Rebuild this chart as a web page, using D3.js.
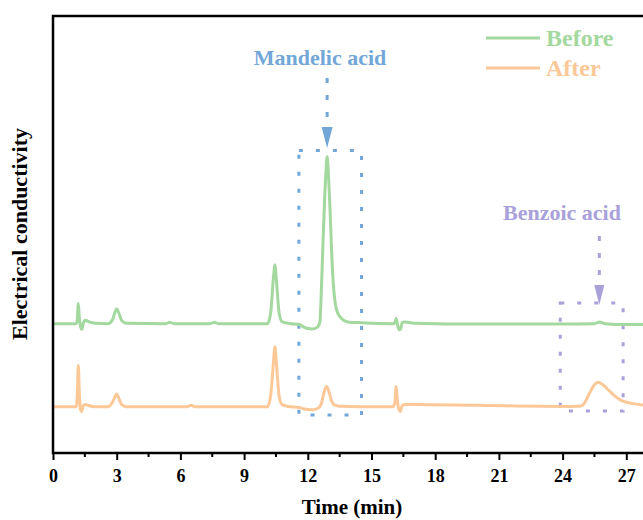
<!DOCTYPE html>
<html>
<head>
<meta charset="utf-8">
<script src="https://cdn.jsdelivr.net/npm/d3@7"></script>
<style>
  body { margin: 0; background: #fff; }
  text { font-family: "Liberation Serif", "Times New Roman", serif; font-weight: bold; }
</style>
</head>
<body>
<div id="chart-container"></div>
<script>
// [time (min), signal]
var before = [
    [0, 29.6], [1.1, 29.6], [1.15, 31], [1.19, 34.2], [1.24, 31], [1.3, 28.8], [1.36, 28.3],
    [1.43, 29.8], [1.52, 30.4], [1.7, 30.0], [2.0, 29.7], [2.6, 29.6], [2.8, 30.5], [2.95, 32.6],
    [3.0, 33.0], [3.1, 32], [3.25, 30.2], [3.45, 29.7], [5.3, 29.6], [5.5, 29.9], [5.7, 29.6],
    [7.4, 29.6], [7.6, 29.9], [7.8, 29.6], [10.1, 29.6], [10.25, 32], [10.38, 40], [10.45, 43.0],
    [10.53, 39], [10.65, 32], [10.8, 30], [11.2, 29.6], [11.6, 29.4], [11.9, 28.6], [12.2, 28.4],
    [12.45, 28.8], [12.57, 30.0], [12.61, 33.5], [12.72, 48.7], [12.85, 64.1], [12.91, 67.8],
    [12.97, 64], [13.04, 56.4], [13.17, 41.2], [13.32, 33.5], [13.51, 31.2], [13.89, 30.0],
    [14.5, 29.8], [16.0, 29.6], [16.1, 29.8], [16.16, 30.8], [16.22, 29.5], [16.3, 28.2],
    [16.37, 28.3], [16.45, 29.9], [16.57, 30.0], [17, 29.7], [20, 29.5], [24, 29.5],
    [25.5, 29.6], [25.75, 30.0], [26.0, 29.6], [27, 29.4], [28.5, 29.4]
];

var after = [
    [0, 10.6], [1.1, 10.6], [1.15, 14], [1.19, 20.1], [1.24, 14], [1.29, 10], [1.35, 9.5],
    [1.42, 10.8], [1.52, 11.1], [1.7, 10.8], [2.0, 10.6], [2.6, 10.6], [2.8, 11.6], [2.95, 13.2],
    [3.0, 13.5], [3.1, 12.5], [3.25, 11], [3.45, 10.6], [6.3, 10.6], [6.5, 10.9], [6.7, 10.6],
    [10.1, 10.6], [10.25, 13], [10.37, 20], [10.45, 24.3], [10.53, 20], [10.65, 13], [10.8, 11],
    [11.2, 10.6], [11.6, 10.4], [11.9, 10.0], [12.2, 9.9], [12.5, 10.3], [12.65, 11.5],
    [12.78, 14.2], [12.88, 15.2], [12.98, 14.3], [13.1, 12.2], [13.25, 11.0], [13.5, 10.7],
    [14.5, 10.6], [16.0, 10.6], [16.1, 11.5], [16.16, 15.2], [16.22, 12], [16.3, 9.8],
    [16.36, 9.5], [16.44, 10.8], [16.55, 11.1], [17, 11.1], [20, 10.9], [23.9, 10.65],
    [24.8, 10.7], [25.0, 11.2], [25.25, 13.5], [25.5, 15.6], [25.68, 16.2], [25.9, 15.6],
    [26.23, 14.1], [26.5, 12.9], [26.78, 12.0], [27.3, 11.3], [27.8, 11.0], [28.5, 10.9]
];

var seriesNames = ['Before', 'After'];
var xTicks = [0, 3, 6, 9, 12, 15, 18, 21, 24, 27];

// peak boxes: [t0, t1, v0, v1], arrow at time t
var mandelicBox = [11.58, 14.53, 8.7, 69.2];
var benzoicBox = [23.89, 26.85, 9.6, 34.3];
var peakLabels = ['Mandelic acid', 'Benzoic acid'];
var peakTimes = [12.91, 25.73];

var colors = { Before: '#a3d89e', After: '#fdc898' };
var blue = '#72a7d8', purple = '#a9a1d9';

var width = 643, height = 520;
var plot = { left: 53, top: 16, bottom: 453, right: 690 };

var x = d3.scaleLinear().domain([0, 30]).range([plot.left, plot.right]);
var y = d3.scaleLinear().domain([0, 100]).range([plot.bottom, plot.top]);

var svg = d3.select('#chart-container')
    .append('svg')
        .attr('width', width)
        .attr('height', height);

var line = d3.line()
    .x(function(d){ return x(d[0]); })
    .y(function(d){ return y(d[1]); })
    .curve(d3.curveMonotoneX);

// annotation boxes first so the traces sit on top
function drawBox(b, col) {
    svg.append('rect')
        .attr('x', x(b[0]))
        .attr('y', y(b[3]))
        .attr('width', x(b[1]) - x(b[0]))
        .attr('height', y(b[2]) - y(b[3]))
        .attr('fill', 'none')
        .attr('stroke', col)
        .attr('stroke-width', 3)
        .attr('stroke-dasharray', '4,13');
}
drawBox(mandelicBox, blue);
drawBox(benzoicBox, purple);

function drawArrow(t, yTop, yHead, yTip, halfW, col) {
    svg.append('line')
        .attr('x1', x(t)).attr('x2', x(t))
        .attr('y1', yTop).attr('y2', yHead)
        .attr('stroke', col)
        .attr('stroke-width', 3)
        .attr('stroke-dasharray', '5,12');
    svg.append('path')
        .attr('d', 'M' + (x(t) - halfW) + ',' + yHead + 'L' + (x(t) + halfW) + ',' + yHead + 'L' + x(t) + ',' + yTip + 'Z')
        .attr('fill', col);
}
drawArrow(peakTimes[0], 78, 127, 148, 5.5, blue);
drawArrow(peakTimes[1], 236, 285, 305, 5, purple);

svg.append('text')
    .attr('x', 320).attr('y', 65)
    .attr('text-anchor', 'middle')
    .attr('font-size', 22)
    .attr('fill', blue)
    .text(peakLabels[0]);

svg.append('text')
    .attr('x', 562).attr('y', 220)
    .attr('text-anchor', 'middle')
    .attr('font-size', 22)
    .attr('fill', purple)
    .text(peakLabels[1]);

// traces
svg.append('path')
    .datum(before)
    .attr('d', line)
    .attr('fill', 'none')
    .attr('stroke', colors.Before)
    .attr('stroke-width', 3)
    .attr('stroke-linejoin', 'round');

svg.append('path')
    .datum(after)
    .attr('d', line)
    .attr('fill', 'none')
    .attr('stroke', colors.After)
    .attr('stroke-width', 3)
    .attr('stroke-linejoin', 'round');

// axes
var xAxis = d3.axisBottom(x)
    .tickValues(xTicks)
    .tickSize(7)
    .tickFormat(d3.format('d'));

var gx = svg.append('g')
    .attr('transform', 'translate(0,' + plot.bottom + ')')
    .call(xAxis);
gx.select('.domain').remove();
gx.selectAll('.tick line').attr('stroke', '#000').attr('stroke-width', 2);
gx.selectAll('.tick text')
    .attr('font-size', 18)
    .attr('font-family', '"Liberation Serif", serif')
    .attr('font-weight', 'bold')
    .attr('fill', '#000')
    .attr('dy', '1.05em');

// minor ticks halfway
var minor = d3.range(1.5, 28, 3);
svg.append('g').selectAll('line')
    .data(minor)
    .enter().append('line')
        .attr('x1', function(d){ return x(d); })
        .attr('x2', function(d){ return x(d); })
        .attr('y1', plot.bottom)
        .attr('y2', plot.bottom + 4)
        .attr('stroke', '#000')
        .attr('stroke-width', 2);

// frame: bottom, left, top (right side runs off the picture)
svg.append('path')
    .attr('d', 'M' + width + ',' + plot.top + 'H' + plot.left + 'V' + plot.bottom + 'H' + width)
    .attr('fill', 'none')
    .attr('stroke', '#000')
    .attr('stroke-width', 2.5);

svg.append('text')
    .attr('x', 352).attr('y', 514)
    .attr('text-anchor', 'middle')
    .attr('font-size', 21)
    .text('Time (min)');

svg.append('text')
    .attr('transform', 'translate(27,234) rotate(-90)')
    .attr('text-anchor', 'middle')
    .attr('font-size', 22)
    .text('Electrical conductivity');

// legend
var legend = svg.append('g');
seriesNames.forEach(function(name, i){
    var ly = 38 + i * 30;
    legend.append('line')
        .attr('x1', 486).attr('x2', 540)
        .attr('y1', ly).attr('y2', ly)
        .attr('stroke', colors[name])
        .attr('stroke-width', 3);
    legend.append('text')
        .attr('x', 546).attr('y', ly + 8)
        .attr('font-size', 24)
        .attr('fill', colors[name])
        .text(name);
});
</script>
</body>
</html>
